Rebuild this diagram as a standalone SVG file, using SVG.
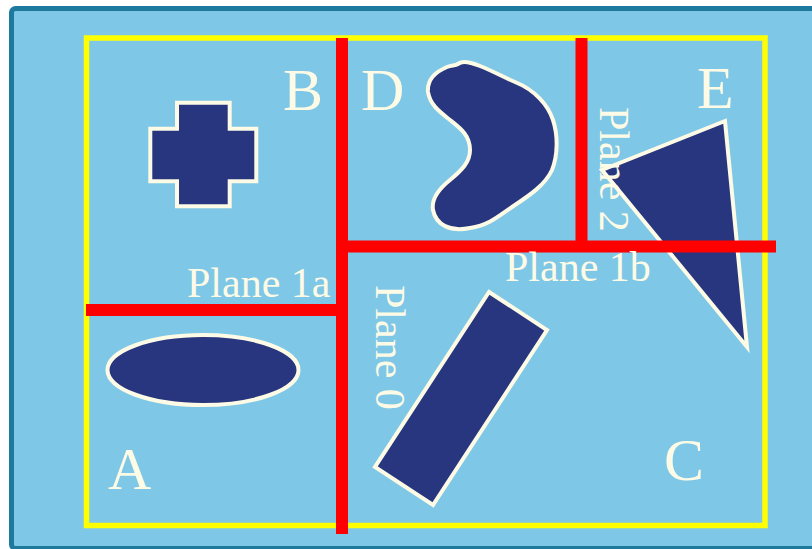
<svg xmlns="http://www.w3.org/2000/svg" width="812" height="549" viewBox="0 0 812 549">
<style>
.shape{fill:#27367e;stroke:#fdfbe6;stroke-width:4;stroke-linejoin:miter}
.plane{stroke:#ff0000;stroke-width:12;fill:none}
.lbl{font-family:"Liberation Serif","Times New Roman",serif;fill:#fdfbe6}
.big{font-size:60px}
.pl{font-size:42px}
</style>
<rect x="0" y="0" width="812" height="549" fill="#ffffff"/>
<rect id="panel" x="11.5" y="8.5" width="820" height="540" rx="4" fill="#7fc7e7" stroke="#1e799f" stroke-width="5"/>
<rect id="bounds" x="86.5" y="38" width="678.5" height="487.5" fill="none" stroke="#ffff00" stroke-width="5.5"/>
<g id="shapes">
<path id="cross" class="shape" d="M177,102.7 H229.7 V128.7 H256.3 V181.3 H229.7 V206.3 H177 V181.3 H150.3 V128.7 H177 Z"/>
<path id="blob" class="shape" d="M458,64 C462,60 470,62 480,66 C495,72 505,78 515,82 C535,90 548,105 553,120 C558,135 558,155 552,170 C545,185 530,195 515,205 C500,215 490,225 470,228 C450,232 436,225 433,210 C431,198 440,188 450,180 C462,170 470,162 470,150 C470,135 460,128 450,120 C440,112 430,105 428,92 C427,80 435,72 447,67 C452,65 455,66 458,64 Z"/>
<polygon id="triangle" class="shape" points="725,121 602,170 747,347"/>
<ellipse id="ellipse" class="shape" cx="203" cy="370" rx="95.5" ry="35" stroke-width="3.5"/>
<polygon id="rect" class="shape" points="489,292 547,330 433,505 375,467"/>
</g>
<g id="planes">
<line class="plane" x1="342" y1="38" x2="342" y2="534"/>
<line class="plane" x1="86" y1="310" x2="342" y2="310"/>
<line class="plane" x1="342" y1="246.5" x2="776" y2="246.5"/>
<line class="plane" x1="581.5" y1="38" x2="581.5" y2="246.5"/>
</g>
<g id="labels">
<text class="lbl big" x="283" y="110">B</text>
<text class="lbl big" x="361" y="110">D</text>
<text class="lbl big" x="697" y="108">E</text>
<text class="lbl big" x="108" y="489">A</text>
<text class="lbl big" x="664" y="480">C</text>
<text class="lbl pl" x="187" y="297">Plane 1a</text>
<text class="lbl pl" x="505" y="281">Plane 1b</text>
<text class="lbl pl" transform="translate(376,285) rotate(90)">Plane 0</text>
<text class="lbl pl" transform="translate(600,107) rotate(90)">Plane 2</text>
</g>
</svg>
